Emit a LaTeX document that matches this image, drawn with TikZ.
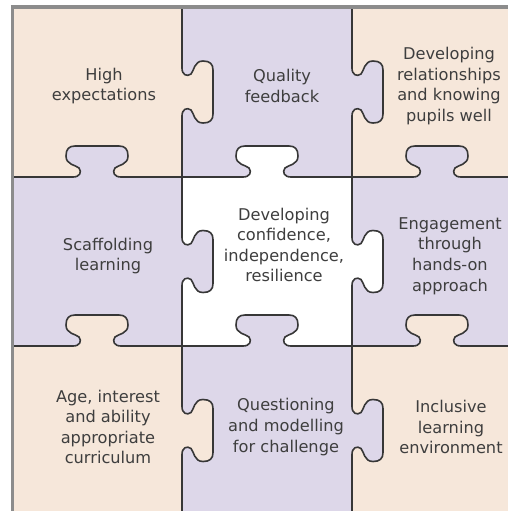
\documentclass[tikz,border=0pt]{standalone}
\usepackage{fontspec}
\setmainfont{DejaVu Sans}
\definecolor{beige}{RGB}{246,231,218}
\definecolor{lilac}{RGB}{221,215,233}
\definecolor{edgegray}{RGB}{55,55,55}
\definecolor{rimgray}{RGB}{140,140,140}
\definecolor{textgray}{RGB}{62,62,62}
\newcommand{\tabcurve}{(-24,0) .. controls (-17,0) and (-15,-5) .. (-18,-9)
  .. controls (-21,-12) and (-31,-12) .. (-31,-21)
  .. controls (-31,-28) and (-28,-31) .. (-22,-31) -- (22,-31)
  .. controls (28,-31) and (31,-28) .. (31,-21)
  .. controls (31,-12) and (21,-12) .. (18,-9)
  .. controls (15,-5) and (17,0) .. (24,0)}
\tikzset{
  edge/.style={draw=edgegray, line width=0.8pt, line cap=round, line join=round},
  pzltext/.style={text=textgray, align=center, inner sep=0pt,
    font=\fontsize{8.1}{10.3}\selectfont},
  tab/.pic={
    \fill[#1] \tabcurve -- cycle;
    \draw[edge] \tabcurve;
  }
}
\begin{document}
\begin{tikzpicture}[x=0.5pt, y=-0.5pt]
    \clip (0,0) rectangle (508,511);
    % cells
    \fill[beige] (12,7) rectangle (182,177);
    \fill[lilac] (182,7) rectangle (352,177);
    \fill[beige] (352,7) rectangle (522,177);
    \fill[lilac] (12,177) rectangle (182,346);
    \fill[white] (182,177) rectangle (352,346);
    \fill[lilac] (352,177) rectangle (522,346);
    \fill[beige] (12,346) rectangle (182,515);
    \fill[lilac] (182,346) rectangle (352,515);
    \fill[beige] (352,346) rectangle (522,515);
    % tabs on the upright seams
    \pic[rotate=-90] at (182,92) {tab=beige};
    \pic[rotate=-90] at (182,261.5) {tab=lilac};
    \pic[rotate=-90] at (182,430.5) {tab=beige};
    \pic[rotate=-90] at (352,92) {tab=lilac};
    \pic[rotate=-90] at (352,261.5) {tab=white};
    \pic[rotate=-90] at (352,430.5) {tab=lilac};
    % tabs on the flat seams
    \pic at (97,177) {tab=lilac};
    \pic at (267,177) {tab=white};
    \pic at (437,177) {tab=lilac};
    \pic at (97,346) {tab=beige};
    \pic at (267,346) {tab=lilac};
    \pic at (437,346) {tab=beige};
    % straight seams
    \draw[edge] (182,7) -- (182,68) (182,116) -- (182,237.5) (182,285.5) -- (182,406.5) (182,454.5) -- (182,515);
    \draw[edge] (352,7) -- (352,68) (352,116) -- (352,237.5) (352,285.5) -- (352,406.5) (352,454.5) -- (352,515);
    \draw[edge] (12,177) -- (73,177) (121,177) -- (243,177) (291,177) -- (413,177) (461,177) -- (522,177);
    \draw[edge] (12,346) -- (73,346) (121,346) -- (243,346) (291,346) -- (413,346) (461,346) -- (522,346);
    % rim
    \draw[rimgray, line width=2pt] (11,7) -- (522,7);
    \draw[rimgray, line width=1.5pt] (12.5,7) -- (12.5,515);
    % texts
    \node[pzltext] (high) at (104,86) {High\\expectations};
    \node[pzltext] (quality) at (282,86) {Quality\\feedback};
    \node[pzltext] (relations) at (449,86) {Developing\\relationships\\and knowing\\pupils well};
    \node[pzltext] (scaffold) at (108,256) {Scaffolding\\learning};
    \node[pzltext] (confidence) at (284,245) {Developing\\confidence,\\independence,\\resilience};
    \node[pzltext] (engage) at (450,256) {Engagement\\through\\hands-on\\approach};
    \node[pzltext] (age) at (108,427) {Age, interest\\and ability\\appropriate\\curriculum};
    \node[pzltext] (question) at (286,427) {Questioning\\and modelling\\for challenge};
    \node[pzltext] (inclusive) at (451,427) {Inclusive\\learning\\environment};
\end{tikzpicture}
\end{document}
